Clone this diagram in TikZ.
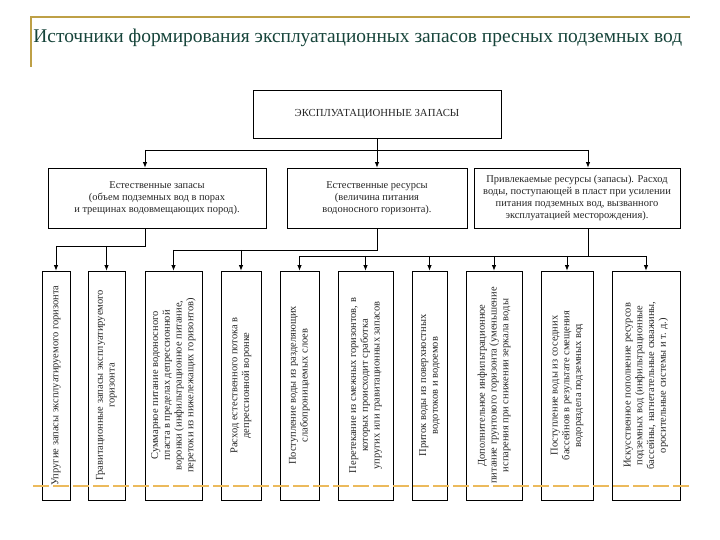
\documentclass[tikz,border=0pt]{standalone}
\usepackage{fontspec}
\setmainfont{Liberation Serif}
\usepackage{tikz}
\usetikzlibrary{arrows.meta,positioning}
\definecolor{framegold}{RGB}{190,160,70}
\definecolor{dashgold}{RGB}{236,186,92}
\definecolor{titleteal}{RGB}{22,68,58}
\tikzstyle{head} = [draw, rectangle, align=center, minimum height=48bp, minimum width=248bp, inner sep=0pt, text=black!85, font=\fontsize{10.8}{13}\selectfont]
\tikzstyle{group} = [draw, rectangle, align=center, minimum height=60bp, inner sep=0pt, text=black!85, font=\fontsize{10.5}{12}\selectfont]
\tikzstyle{source} = [draw, rectangle, rotate=90, align=center, minimum width=229bp, inner sep=0pt, text=black!85, font=\fontsize{10.5}{11.8}\selectfont]
\tikzstyle{arr} = [draw, ->]

\begin{document}
\begin{tikzpicture}[x=1bp, y=-1bp, >={Latex[length=5.5bp,width=4.5bp]}, line width=0.8bp]
    \useasboundingbox (0,0) rectangle (720,540);
    \draw [framegold, line width=2bp] (31,67) -- (31,17) -- (690,17);
    \node [anchor=west, inner sep=0pt, text=titleteal, font=\fontsize{19.5}{22}\selectfont] (title) at (33,38) {Источники формирования эксплуатационных запасов пресных подземных вод};

    \node [head] (top) at (377,114) {ЭКСПЛУАТАЦИОННЫЕ ЗАПАСЫ};

    \node [group, minimum width=218bp] (nat) at (157,198) {Естественные запасы\\(объем подземных вод в порах\\и трещинах водовмещающих пород).};
    \node [group, minimum width=180bp] (res) at (377,198) {Естественные ресурсы\\(величина питания\\водоносного горизонта).};
    \node [group, minimum width=206bp] (inv) at (577,198) {Привлекаемые ресурсы (запасы). Расход\\воды, поступающей в пласт при усилении\\питания подземных вод, вызванного\\эксплуатацией месторождения).};

    \node [source, minimum height=28bp] (b1) at (56,385.5) {Упругие запасы эксплуатируемого горизонта};
    \node [source, minimum height=37bp] (b2) at (106.5,385.5) {Гравитационные запасы эксплуатируемого\\горизонта};
    \node [source, minimum height=57bp] (b3) at (173.5,385.5) {Суммарное питание водоносного\\пласта в пределах депрессионной\\воронки (инфильтрационное питание,\\перетоки из нижележащих горизонтов)};
    \node [source, minimum height=40bp] (b4) at (241,385.5) {Расход естественного потока в\\депрессионной воронке};
    \node [source, minimum height=39bp] (b5) at (299.5,385.5) {Поступление воды из разделяющих\\слабопроницаемых слоев};
    \node [source, minimum height=55bp] (b6) at (365.5,385.5) {Перетекание из смежных горизонтов, в\\которых происходит сработка\\упругих или гравитационных запасов};
    \node [source, minimum height=35bp] (b7) at (429.5,385.5) {Приток воды из поверхностных\\водотоков и водоемов};
    \node [source, minimum height=56bp] (b8) at (494,385.5) {Дополнительное инфильтрационное\\питание грунтового горизонта (уменьшение\\испарения при снижении зеркала воды};
    \node [source, minimum height=52bp] (b9) at (567,385.5) {Поступление воды из соседних\\бассейнов в результате смещения\\водораздела подземных вод};
    \node [source, minimum height=68bp] (b10) at (646,385.5) {Искусственное пополнение ресурсов\\подземных вод (инфильтрационные\\бассейны, нагнетательные скважины,\\оросительные системы и т. д.)};

    \coordinate (jtl) at (145,150);
    \coordinate (jtr) at (588,150);
    \coordinate (jl) at (145,246);
    \coordinate (jm) at (377,250);
    \coordinate (jr) at (588,256);

    \draw (jtl) -- (jtr);
    \draw [arr] (top) -- (res);
    \draw [arr] (jtl) -- (jtl |- nat.north);
    \draw [arr] (jtr) -- (jtr |- inv.north);

    \draw (jl |- nat.south) -- (jl) -- (jl -| b1);
    \draw [arr] (jl -| b1) -- (b1);
    \draw [arr] (jl -| b2) -- (b2);

    \draw (res.south) -- (jm) -- (jm -| b3);
    \draw [arr] (jm -| b3) -- (b3);
    \draw [arr] (jm -| b4) -- (b4);

    \draw (jr |- inv.south) -- (jr) -- (jr -| b5);
    \draw (jr) -- (jr -| b10);
    \draw [arr] (jr -| b5) -- (b5);
    \draw [arr] (jr -| b6) -- (b6);
    \draw [arr] (jr -| b7) -- (b7);
    \draw [arr] (jr -| b8) -- (b8);
    \draw [arr] (jr -| b9) -- (b9);
    \draw [arr] (jr -| b10) -- (b10);

    \draw [dashgold, line width=1.6bp, dash pattern=on 16bp off 4bp] (33,486) -- (692,486);
\end{tikzpicture}
\end{document}
